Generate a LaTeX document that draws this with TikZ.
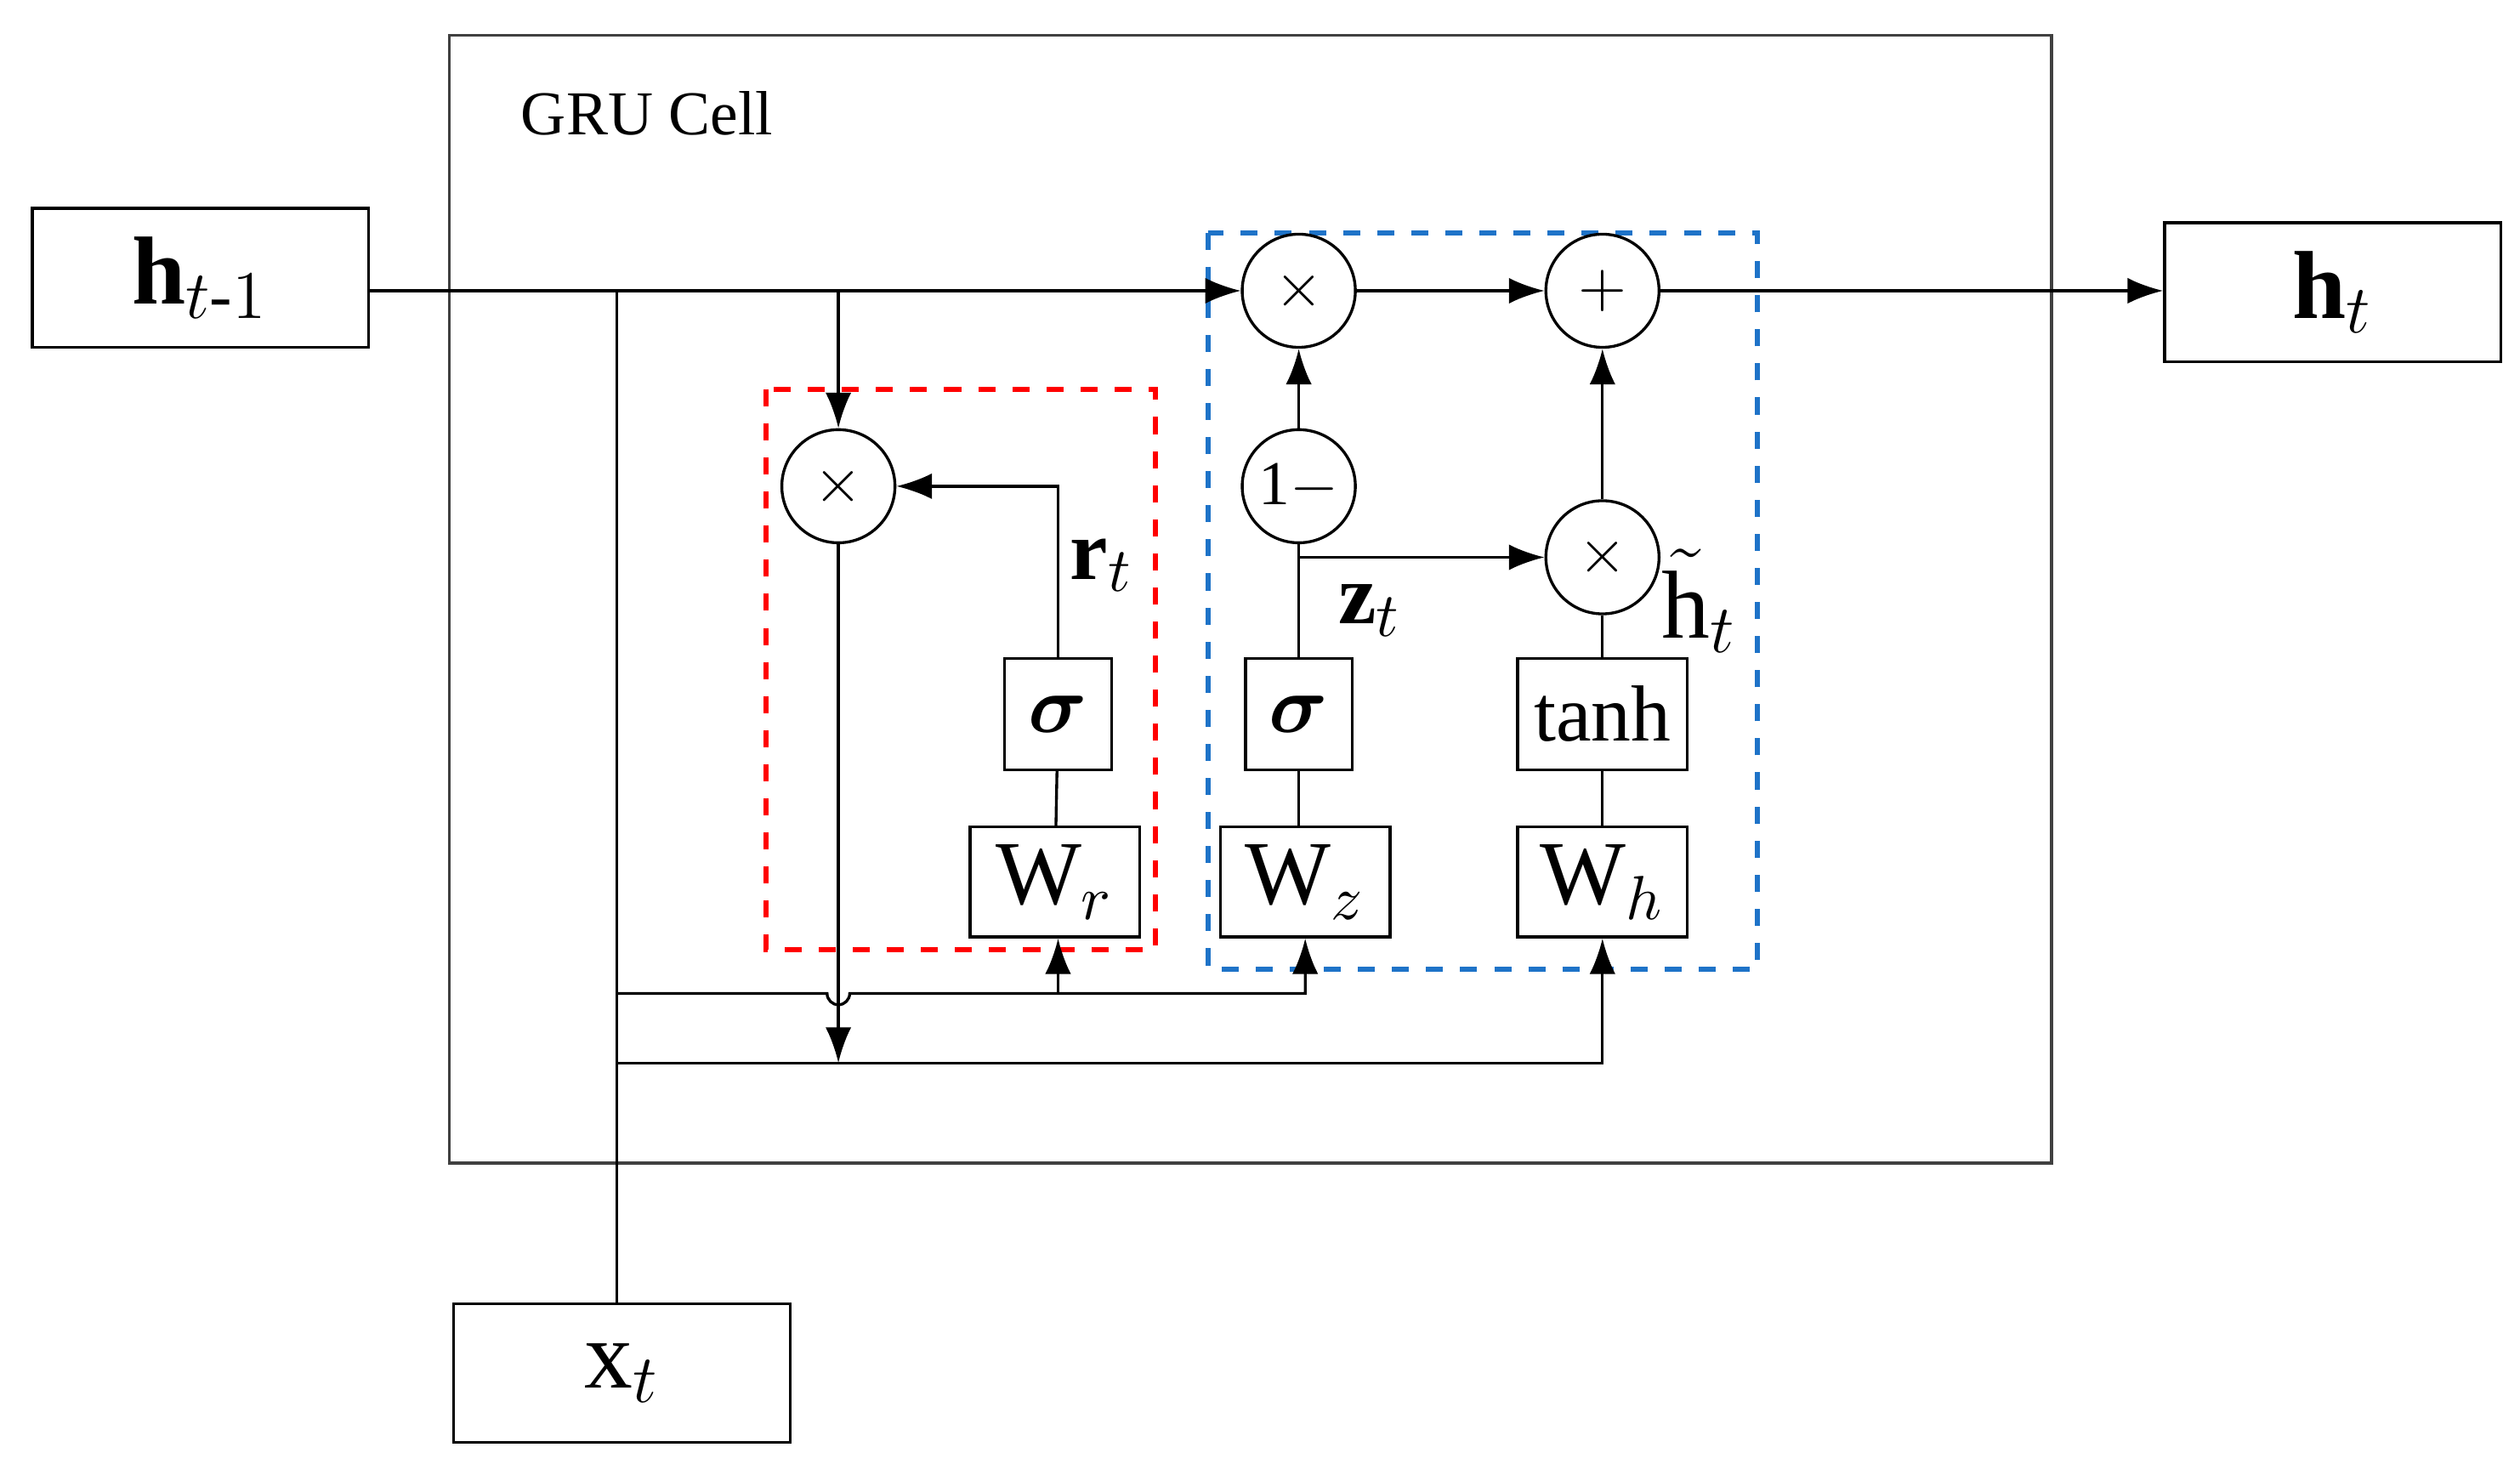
\documentclass[tikz,border=0pt]{standalone}
\usepackage{amsmath,amssymb}
\usepackage{fontspec}
\setmainfont{Liberation Serif}
\usetikzlibrary{arrows.meta,calc}
\definecolor{gateblue}{RGB}{30,115,200}
\begin{document}
\begin{tikzpicture}[x=0.01cm,y=-0.01cm,>={Latex[length=2.2mm,width=1.6mm]},line width=0.5pt]
    \tikzstyle{box}=[rectangle,draw,fill=white,align=center,inner sep=0pt]
    \tikzstyle{iobox}=[box,minimum width=2.08cm,minimum height=0.86cm,font=\fontsize{17}{19}\selectfont]
    \tikzstyle{gate}=[circle,draw,fill=white,minimum size=0.7cm,inner sep=0pt,font=\fontsize{11}{12}\selectfont]
    \tikzstyle{sbox}=[box,minimum width=0.66cm,minimum height=0.69cm,font=\fontsize{14}{15}\selectfont]
    \tikzstyle{wbox}=[box,minimum width=1.05cm,minimum height=0.68cm,font=\fontsize{16}{18}\selectfont]
    \useasboundingbox (0,0) rectangle (1560,910);
    % cell and gate frames
    \draw[draw=black!75] (278,22) rectangle (1270,720);
    \node[anchor=west,font=\fontsize{11}{13}\selectfont] (cell) at (310,70) {GRU Cell};
    \draw[red,dashed,line width=0.9pt] (474,241) rectangle (715,588);
    \draw[gateblue,dashed,line width=0.9pt] (748,144) rectangle (1088,600);
    % inputs and output
    \node[iobox] (hprev) at (124,172) {$\mathbf{h}_{t\text{-}1}$};
    \node[iobox] (hnext) at (1444,181) {$\mathbf{h}_{t}$};
    \node[iobox] (xt) at (385,850) {x$_t$};
    % gates
    \node[gate] (mr) at (519,301) {$\times$};
    \node[gate] (mz) at (804,180) {$\times$};
    \node[gate] (plus) at (992,180) {$+$};
    \node[gate] (omz) at (804,301) {1$-$};
    \node[gate] (mh) at (992,345) {$\times$};
    \node[sbox] (sr) at (655,442) {$\boldsymbol{\sigma}$};
    \node[sbox] (sz) at (804,442) {$\boldsymbol{\sigma}$};
    \node[sbox,minimum width=1.05cm] (th) at (992,442) {tanh};
    \node[wbox] (wr) at (653,546) {W$_r$};
    \node[wbox] (wz) at (808,546) {W$_z$};
    \node[wbox] (wh) at (992,546) {W$_h$};
    % labels
    \node[font=\fontsize{15}{17}\selectfont] (rt) at (682,350) {\textbf{r}$_t$};
    \node[font=\fontsize{15}{17}\selectfont] (zt) at (848,378) {\textbf{z}$_t$};
    \node[font=\fontsize{17}{19}\selectfont] (ht) at (1052,372) {$\tilde{\mathrm{h}}_t$};
    % junctions
    \coordinate (top) at (382,180);
    \coordinate (low1) at (382,615);
    \coordinate (low2) at (382,658);
    % main path
    \draw[->] (hprev.east |- top) -- (mz.west);
    \draw[->] (mz.east) -- (plus.west);
    \draw[->] (plus.east) -- (hnext.west |- plus);
    \draw[->] (mr.north |- top) -- (mr.north);
    \draw (xt.north -| top) -- (top);
    % reset gate
    \draw (wr) -- (sr);
    \draw[->] (sr.north) |- (mr.east);
    \draw[->] (mr.south) -- (519,658);
    % update gate
    \draw (wz.north -| sz) -- (sz.south);
    \draw (sz.north) -- (omz.south);
    \draw[->] (omz.north) -- (mz.south);
    \draw[->] (804,345) -- (mh.west);
    % candidate
    \draw (wh) -- (th);
    \draw (th) -- (mh);
    \draw[->] (mh.north) -- (plus.south);
    % input distribution
    \draw[->] (low1) -- (512,615) arc (180:0:7) -- (808,615) -- (wz.south);
    \draw[->] (655,615) -- (wr.south -| 655,0);
    \draw[->] (low2) -- (992,658) -- (wh.south);
\end{tikzpicture}
\end{document}
